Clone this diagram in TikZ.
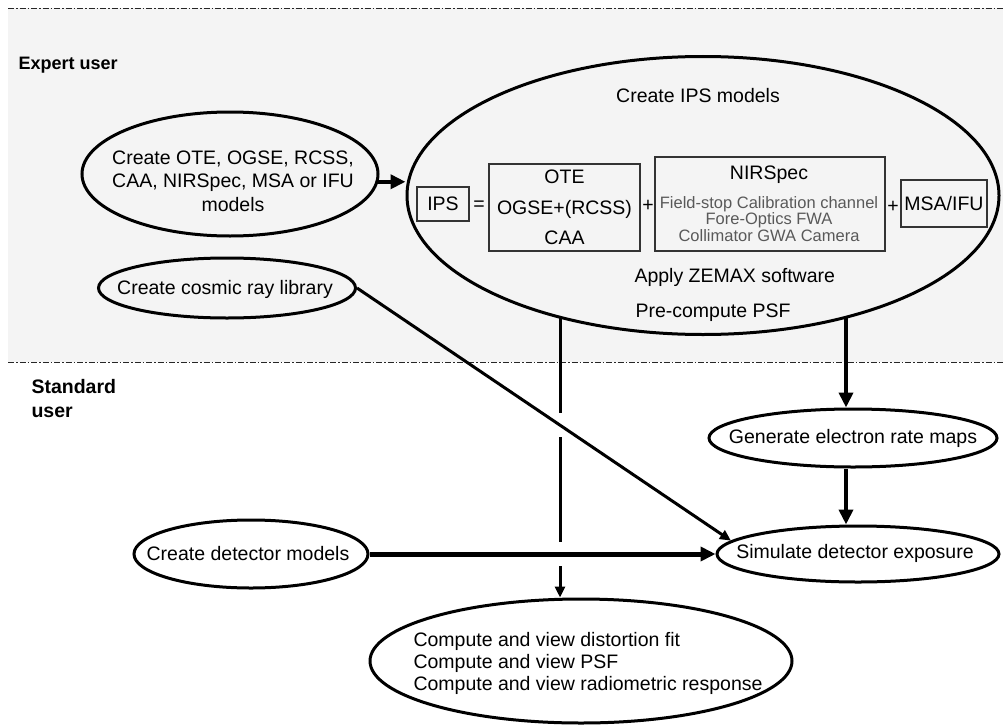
\documentclass[tikz,border=0pt]{standalone}
\usepackage{fontspec}
\setmainfont{Liberation Sans}
\usetikzlibrary{shapes.geometric}
\usetikzlibrary{calc}
\usetikzlibrary{arrows.meta}
\usetikzlibrary{intersections}
\definecolor{expertgray}{HTML}{F4F4F4}
\definecolor{boxline}{HTML}{333333}
\providecommand\bigtext{\fontsize{19.5}{23.5}\selectfont}
\providecommand\smalltext{\fontsize{16.5}{13.5}\selectfont}

\begin{document}
\begin{tikzpicture}[%
        x = 1pt,
        y = -1pt,
        line width = 3pt,
        inner sep = 0pt,
        font = \bigtext,
        proc/.style = {ellipse, draw = black, line width = 3pt},
        part/.style = {rectangle, draw = boxline, line width = 1.2pt, align = center},
        zone/.style = {draw = black!85, line width = 0.9pt,
                       dash pattern = on 6pt off 2pt on 1.5pt off 2pt},
        bigtip/.style = {-{Triangle[length=15pt, width=14pt]}},
        smalltip/.style = {-{Triangle[length=11pt, width=10pt]}},
        ]

\useasboundingbox (0,0) rectangle (1003,725);

% user zones
\fill[expertgray] (8,8) rectangle (1003,362);
\draw[zone] (8,8) -- (1003,8);
\draw[zone] (8,362) -- (1003,362);
\node (expert) [anchor = west, font = \fontsize{18}{22}\selectfont\bfseries] at (17,65) {Expert user};
\node (standard) [anchor = west, align = left, font = \fontsize{19.5}{24}\selectfont\bfseries] at (30,399) {Standard\\user};


\node (models) [proc, minimum width = 296pt, minimum height = 124pt] at (230,174) {};
\node (models-t) [align = center] at (233,181)
    {Create OTE, OGSE, RCSS,\\CAA, NIRSpec, MSA or IFU\\models};

\node (cosmic) [proc, minimum width = 257pt, minimum height = 60pt] at (227,288) {};
\node (cosmic-t) at (225,289) {Create cosmic ray library};


% IPS model ellipse
\node (ips) [proc, minimum width = 592pt, minimum height = 278pt] at (703,195.5) {};
\node (ips-t) at (698,96) {Create IPS models};

\node (ipsbox) [part, minimum width = 52pt, minimum height = 34pt] at (443,204) {IPS};
\node (eq) at (479,206) {=};
\node (otebox) [part, minimum width = 151pt, minimum height = 87pt,
    font = \fontsize{19.5}{30.5}\selectfont] at (564.5,207.5) {OTE\\OGSE+(RCSS)\\CAA};
\node (plus1) at (648,206) {+};
\node (nirbox) [part, minimum width = 230pt, minimum height = 94pt] at (770,204) {};
\node (nir-t) at (769,175) {NIRSpec};
\node (nir-parts) [align = center, text = black!65, font = \smalltext] at (769,219)
    {Field-stop Calibration channel\\Fore-Optics FWA\\Collimator GWA Camera};
\node (plus2) at (893,207) {+};
\node (msabox) [part, minimum width = 86pt, minimum height = 47pt] at (944,203.5) {MSA/IFU};

\node (zemax) [anchor = west] at (633,277) {Apply ZEMAX software};
\node (psf) [anchor = west] at (634,313) {Pre-compute PSF};


\node (genmaps) [proc, minimum width = 288pt, minimum height = 58pt] at (853,438) {};
\node (genmaps-t) at (853,438) {Generate electron rate maps};

\node (simexp) [proc, minimum width = 282pt, minimum height = 56pt] at (858,554) {};
\node (simexp-t) at (855,553) {Simulate detector exposure};

\node (detmodels) [proc, minimum width = 234pt, minimum height = 68pt] at (251,554) {};
\node (detmodels-t) at (248,554) {Create detector models};

\node (compute) [proc, minimum width = 422pt, minimum height = 124pt] at (581,661) {};
\node (compute-t) [anchor = west, align = left, font = \fontsize{19.5}{22}\selectfont] at (412,663)
    {Compute and view distortion fit\\Compute and view PSF\\Compute and view radiometric response};


\coordinate (ltop) at (560,317);
\coordinate (rtop) at (846,317);

\draw[bigtip, line width = 4pt] (models.-3) -- (models.-3 -| ips.west);
\draw[bigtip, line width = 4pt] (rtop) -- (rtop |- genmaps.north);
\draw[bigtip, line width = 4pt] (rtop |- genmaps.south) -- (rtop |- simexp.north);

\draw[smalltip, name path = vline] (ltop) -- (ltop |- compute.north);

% gaps where the other lines cross
\path[name path = diag] (cosmic.east) -- (simexp.174);
\path[name intersections = {of = vline and diag, by = xd}];
\fill[white] ($(xd)+(-4,-12)$) rectangle ($(xd)+(4,12)$);
\fill[white] ($(ltop |- detmodels.east)+(-4,-12)$) rectangle ($(ltop |- detmodels.east)+(4,12)$);

\draw[smalltip] (cosmic.east) -- (simexp.174);
\draw[bigtip, line width = 5pt] (detmodels.east) -- (simexp.west);


\end{tikzpicture}
\end{document}
